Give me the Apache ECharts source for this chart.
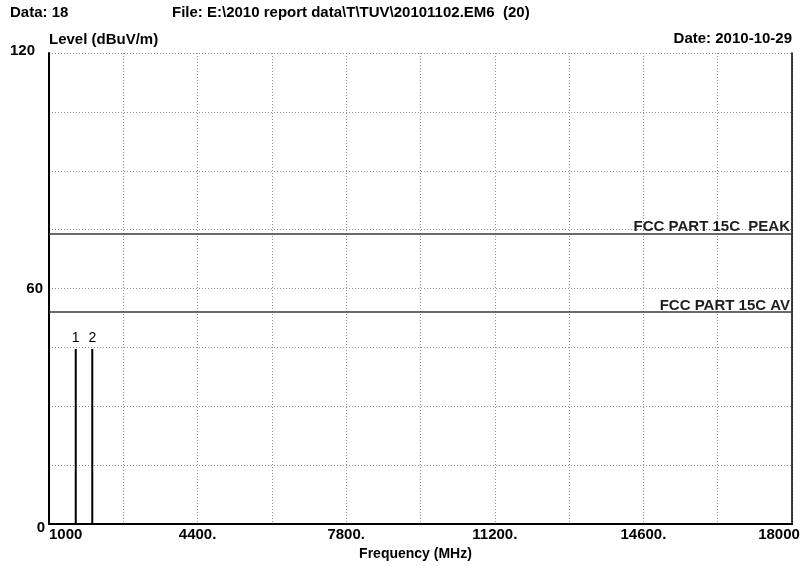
<!DOCTYPE html>
<html>
<head>
<meta charset="utf-8">
<script src="https://cdn.jsdelivr.net/npm/echarts@6/dist/echarts.min.js"></script>
<style>
  html, body { margin: 0; padding: 0; background: #fff; }
  #chart { width: 802px; height: 566px; }
</style>
</head>
<body>
<div id="chart"></div>
<script>
// Frequency axis (MHz)
const xMin = 1000;
const xMax = 18000;
const xStep = 1700;
const xLabelValues = [1000, 4400, 7800, 11200, 14600, 18000];
const xLabelTexts = ['1000', '4400.', '7800.', '11200.', '14600.', '18000'];

// Level axis (dBuV/m)
const yMin = 0;
const yMax = 120;
const yStep = 15;
const yLabelValues = [0, 60, 120];
const yLabelTexts = ['0', '60', '120'];

// Limit lines
const limitNames = ['FCC PART 15C  PEAK', 'FCC PART 15C AV'];
const limitLevels = [74, 54];

// Marked emissions
const markerIds = ['1', '2'];
const markerFreqs = [1612, 1990];
const markerLevels = [44.6, 44.6];

const FONT = '"Liberation Sans", Arial, sans-serif';
const bold = (size) => ({ fontFamily: FONT, fontSize: size, fontWeight: 'bold', color: '#000' });

const chart = echarts.init(document.getElementById('chart'), null, { renderer: 'canvas' });

const gridLine = { show: true, lineStyle: { color: '#8f8f8f', width: 1, type: [1, 2] } };

const option = {
  backgroundColor: '#fff',
  animation: false,
  textStyle: { fontFamily: FONT },
  title: [
    { text: 'Data: 18', left: 10, top: 5, padding: 0, textStyle: bold(15) },
    { text: 'File: E:\\2010 report data\\T\\TUV\\20101102.EM6  (20)', left: 172, top: 5, padding: 0, textStyle: bold(15) },
    { text: 'Date: 2010-10-29', right: 10, top: 31, padding: 0, textStyle: bold(15) }
  ],
  grid: { left: 49, right: 10, top: 53, bottom: 42, containLabel: false, outerBoundsMode: 'none' },
  xAxis: [
    {
      type: 'value', min: xMin, max: xMax, interval: xStep,
      name: 'Frequency (MHz)', nameLocation: 'middle', nameGap: 22,
      nameTextStyle: Object.assign(bold(14), { padding: [0, 10, 0, 0] }),
      axisLine: { show: true, lineStyle: { color: '#000', width: 2 } },
      axisTick: { show: false },
      splitLine: gridLine,
      axisLabel: Object.assign(bold(15), {
        margin: 3,
        alignMinLabel: 'left',
        formatter: function (v) {
          const i = xLabelValues.indexOf(v);
          if (i < 0) return '';
          if (v === xMax) return xLabelTexts[i] + '{s| }';
          return xLabelTexts[i];
        },
        rich: { s: { width: 26 } }
      })
    },
    {
      type: 'value', position: 'top', min: xMin, max: xMax,
      axisLine: { show: true, lineStyle: { color: '#000', width: 2 } },
      axisTick: { show: false }, axisLabel: { show: false }, splitLine: { show: false }
    }
  ],
  yAxis: [
    {
      type: 'value', min: yMin, max: yMax, interval: yStep,
      name: 'Level (dBuV/m)', nameLocation: 'end', nameGap: 6,
      nameTextStyle: Object.assign(bold(15), { align: 'left' }),
      axisLine: { show: true, lineStyle: { color: '#000', width: 2 } },
      axisTick: { show: false },
      splitLine: gridLine,
      axisLabel: Object.assign(bold(15), {
        margin: 4,
        formatter: function (v) {
          const i = yLabelValues.indexOf(v);
          if (i < 0) return '';
          if (v === yMax) return '{top|' + yLabelTexts[i] + '}';
          if (v === yMin) return '{bot|' + yLabelTexts[i] + '}';
          return '{mid|' + yLabelTexts[i] + '}';
        },
        rich: {
          top: Object.assign(bold(15), { padding: [0, 10, 4, 0] }),
          mid: Object.assign(bold(15), { padding: [0, 2, 0, 0] }),
          bot: Object.assign(bold(15), { padding: [8, 0, 0, 0] })
        }
      })
    },
    {
      type: 'value', position: 'right', min: yMin, max: yMax,
      axisLine: { show: true, lineStyle: { color: '#000', width: 1.5 } },
      axisTick: { show: false }, axisLabel: { show: false }, splitLine: { show: false }
    }
  ],
  series: [
    {
      name: 'limits',
      type: 'line',
      data: [],
      markLine: {
        silent: true,
        symbol: 'none',
        lineStyle: { color: '#3a3a3a', width: 1.5, type: 'solid' },
        label: Object.assign(bold(15), {
          position: 'insideEndTop', distance: [2, -1], color: '#1e1e1e'
        }),
        data: limitLevels.map((lv, i) => ({ yAxis: lv, label: { formatter: limitNames[i] } }))
      }
    },
    {
      name: 'markers',
      type: 'bar',
      barWidth: 2,
      itemStyle: { color: '#000' },
      label: {
        show: true, position: 'top', distance: 4,
        fontFamily: FONT, fontSize: 14, color: '#000',
        formatter: p => markerIds[p.dataIndex]
      },
      data: markerFreqs.map((f, i) => [f, markerLevels[i]])
    }
  ]
};

chart.setOption(option);
</script>
</body>
</html>
